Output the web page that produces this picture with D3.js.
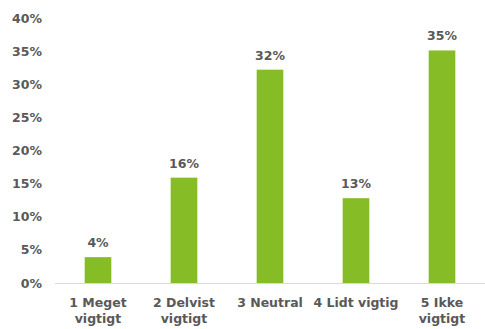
<!DOCTYPE html>
<html><head><meta charset="utf-8">
<script src="https://cdn.jsdelivr.net/npm/d3@7"></script>
<style>body{margin:0;background:#fff;}svg{display:block;}</style>
</head><body>
<script>
const categories = [["1 Meget","vigtigt"],["2 Delvist","vigtigt"],["3 Neutral"],["4 Lidt vigtig"],["5 Ikke","vigtigt"]];
const values = [3.9, 15.9, 32.2, 12.8, 35.1];
const labels = ["4%","16%","32%","13%","35%"];
const yTicks = [0,5,10,15,20,25,30,35,40];

const W=485,H=329;
const m={l:55,r:0,t:18,b:46};
const svg=d3.select("body").append("svg").attr("width",W).attr("height",H);
const x=d3.scaleBand().domain(d3.range(categories.length)).range([m.l,W-m.r]).paddingInner(0.69).paddingOuter(0.345);
const y=d3.scaleLinear().domain([0,40]).range([H-m.b,m.t]);
const font="'DejaVu Sans', Verdana, sans-serif";
const col="#595959";

const ya=svg.append("g").attr("transform",`translate(${m.l},0)`)
  .call(d3.axisLeft(y).tickValues(yTicks).tickFormat(d=>d+"%").tickSize(0).tickPadding(13));
ya.select(".domain").remove();
ya.selectAll("text").attr("font-family",font).attr("font-weight","bold").attr("font-size","12.5px").attr("fill",col);

svg.append("line").attr("x1",m.l).attr("x2",W).attr("y1",y(0)+0.5).attr("y2",y(0)+0.5).attr("stroke","#d9d9d9");

svg.selectAll("rect.bar").data(values).join("rect").attr("class","bar")
  .attr("x",(d,i)=>x(i)).attr("width",x.bandwidth())
  .attr("y",d=>y(d)).attr("height",d=>y(0)-y(d)).attr("fill","#86bc25");

svg.selectAll("text.lbl").data(values).join("text").attr("class","lbl")
  .attr("x",(d,i)=>x(i)+x.bandwidth()/2).attr("y",d=>y(d)-10)
  .attr("text-anchor","middle").attr("font-family",font).attr("font-weight","bold").attr("font-size","12.5px").attr("fill",col)
  .text((d,i)=>labels[i]);

const ct=svg.selectAll("text.cat").data(categories).join("text").attr("class","cat")
  .attr("text-anchor","middle").attr("font-family",font).attr("font-weight","bold").attr("font-size","12.5px").attr("fill",col);
ct.each(function(d,i){
  const t=d3.select(this);
  d.forEach((s,j)=>t.append("tspan").attr("x",x(i)+x.bandwidth()/2).attr("y",H-m.b+24+j*16).text(s));
});
</script>
</body></html>
